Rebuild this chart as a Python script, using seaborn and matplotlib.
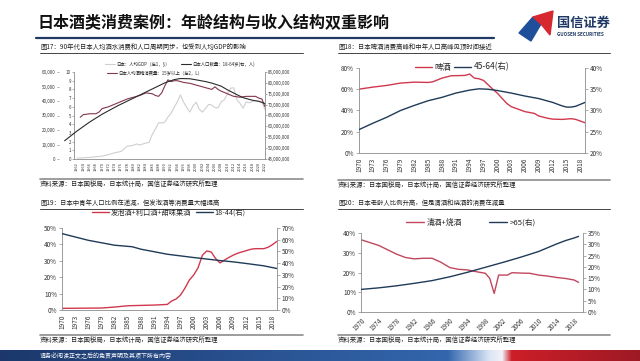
import matplotlib
matplotlib.use('Agg')
import matplotlib.pyplot as plt
from matplotlib.lines import Line2D
from matplotlib.patches import Polygon
import numpy as np
import seaborn as sns

# ---------------- data ----------------
# fig17: GDP per capita ($), working-age population, alcohol per capita (L)
gdp_years = [1962, 1964, 1966, 1968, 1970, 1972, 1974, 1976, 1978, 1979, 1980, 1981, 1982,
             1983, 1984, 1985, 1986, 1987, 1988, 1989, 1990, 1991, 1992, 1993, 1994, 1995,
             1996, 1997, 1998, 1999, 2000, 2001, 2002, 2003, 2004, 2005, 2006, 2007, 2008,
             2009, 2010, 2011, 2012, 2013, 2014, 2015, 2016, 2017, 2018, 2019, 2020, 2021, 2022]
gdp_usd = [600, 850, 1100, 1500, 2000, 3000, 4300, 5200, 8800, 9100, 9500, 10400, 9600,
           10400, 11000, 11600, 17000, 20700, 25000, 24800, 25400, 28900, 31500, 35800, 39300, 44200,
           39200, 35600, 32400, 36600, 39200, 34400, 32300, 34800, 37700, 37200, 35400, 35300, 39300,
           40900, 45000, 48800, 49100, 40900, 38500, 35000, 39400, 38800, 39700, 40400, 40000, 39800, 33800]
pop_years = [1958, 1962, 1966, 1970, 1975, 1980, 1985, 1990, 1993, 1995, 1998, 2000, 2003,
             2005, 2008, 2010, 2013, 2015, 2018, 2020, 2022]
pop_1864 = [53.4, 57.9, 62.0, 65.6, 69.5, 73.0, 76.5, 80.0, 81.5, 82.0, 81.9, 81.4, 80.6,
            79.9, 78.5, 76.8, 74.6, 73.2, 72.0, 71.5, 70.5]  # millions
alc_years = [1963, 1964, 1966, 1968, 1969, 1970, 1972, 1974, 1976, 1978, 1980, 1982, 1984,
             1986, 1987, 1988, 1989, 1990, 1991, 1992, 1993, 1994, 1996, 1998, 2000, 2002,
             2004, 2005, 2006, 2007, 2008, 2010, 2012, 2014, 2016, 2018, 2019, 2020, 2021, 2022]
alc_litres = [4.8, 5.1, 5.2, 5.2, 5.4, 5.8, 6.0, 6.3, 6.6, 6.9, 7.1, 7.3, 7.6,
              7.5, 7.3, 7.2, 7.6, 8.4, 9.1, 8.9, 9.0, 9.0, 8.8, 8.7, 8.5, 8.3,
              8.1, 8.0, 8.3, 8.0, 7.8, 7.5, 7.2, 7.1, 7.2, 7.2, 7.2, 7.0, 6.9, 6.0]

# fig18: beer share (left) and 45-64 share (right)
beer_years = [1970, 1973, 1976, 1979, 1982, 1985, 1986, 1988, 1990, 1993, 1994, 1995, 1996,
              1997, 1998, 1999, 2000, 2001, 2002, 2003, 2005, 2006, 2008, 2009, 2011, 2012,
              2014, 2016, 2017, 2019]
beer_share = [60.1, 62.0, 63.6, 65.8, 66.7, 66.4, 67.0, 70.5, 72.7, 73.0, 74.3, 70.5, 69.9,
              68.3, 64.2, 60.1, 56.3, 51.5, 46.8, 43.6, 40.5, 38.9, 37.3, 34.8, 32.6, 31.9,
              31.6, 32.3, 31.6, 28.5]
age4564_years = [1970, 1973, 1976, 1979, 1982, 1985, 1988, 1991, 1994, 1996, 1998, 2000, 2003,
                 2006, 2009, 2012, 2014, 2015, 2016, 2017, 2019]
age4564_share = [25.5, 27.0, 28.4, 30.0, 31.2, 32.3, 33.1, 34.1, 34.8, 35.1, 35.0, 34.7, 34.1,
                 33.4, 32.8, 31.9, 31.1, 30.8, 30.8, 31.0, 31.9]

# fig19: happoshu + liqueur + sweet fruit wine (left), 18-44 share (right)
happo_years = [1970, 1979, 1982, 1985, 1988, 1991, 1994, 1995, 1996, 1997, 1998, 1999, 2000,
               2001, 2002, 2003, 2004, 2005, 2006, 2007, 2008, 2009, 2010, 2011, 2012, 2013,
               2014, 2015, 2016, 2017, 2018, 2019]
happo_share = [1.0, 1.2, 1.8, 2.6, 2.8, 3.0, 3.4, 5.5, 6.7, 9.1, 13.2, 18.2, 21.3,
               25.7, 33.4, 36.0, 35.4, 31.4, 28.7, 30.4, 32.0, 33.4, 34.6, 35.4, 36.2, 37.0,
               37.4, 37.4, 37.4, 38.3, 39.9, 41.9]
age1844_years = [1970, 1976, 1982, 1986, 1988, 1994, 2000, 2006, 2009, 2012, 2016, 2019]
age1844_share = [65.2, 59.5, 55.3, 54.0, 51.9, 47.6, 44.8, 42.2, 41.1, 39.7, 37.7, 35.4]

# fig20: sake + shochu (left), over-65 share (right)
sake_years = [1970, 1974, 1978, 1980, 1982, 1984, 1986, 1988, 1990, 1992, 1994, 1996, 1998,
              1999, 2000, 2001, 2002, 2003, 2004, 2006, 2008, 2010, 2012, 2014, 2016, 2018, 2019]
sake_share = [36.6, 33.7, 29.3, 27.6, 26.9, 27.2, 27.2, 25.2, 22.5, 21.6, 21.3, 20.4, 19.6,
              17.0, 9.4, 18.7, 18.7, 18.7, 19.9, 19.7, 19.6, 18.7, 18.2, 17.5, 17.0, 16.2, 15.0]
age65_years = [1970, 1974, 1978, 1982, 1986, 1990, 1994, 1998, 2002, 2006, 2010, 2014, 2016,
               2018, 2019]
age65_share = [10.0, 10.7, 11.6, 12.7, 13.9, 15.6, 17.6, 19.8, 22.0, 24.3, 26.8, 30.1, 31.6,
               32.8, 33.5]

# ---------------- style ----------------
sns.set_theme(style='white')
plt.rcParams['font.family'] = ['Noto Sans CJK SC', 'DejaVu Sans']
plt.rcParams['axes.unicode_minus'] = False

W, H = 640, 361
NAVY = '#1f3b57'
RED = '#d0384e'
MAROON = '#83364a'
TXT = '#333333'
GRID = '#8c8c8c'


def box(x0, y0, x1, y1):
    return [x0 / W, 1 - y1 / H, (x1 - x0) / W, (y1 - y0) / H]


def fpos(x, y):
    return (x / W, 1 - y / H)


fig = plt.figure(figsize=(W / 100, H / 100), dpi=100)

# overlay in pixel coordinates for header, captions, rules, footer
bg = fig.add_axes([0, 0, 1, 1])
bg.set_xlim(0, W)
bg.set_ylim(H, 0)
bg.axis('off')

bg.text(38, 23, '日本酒类消费案例：年龄结构与收入结构双重影响', fontsize=11.5,
        fontweight='bold', color='#111111', va='center')
bg.plot([36, 494], [38, 38], color='#1f3864', lw=1.6)
bg.add_patch(Polygon([(519, 33), (533, 17), (541, 24), (531, 41)], closed=True, color='#1f4e9a'))
bg.add_patch(Polygon([(533, 17), (553, 11), (550, 35), (541, 24)], closed=True, color='#d7272f'))
bg.text(557, 23, '国信证券', fontsize=9.5, fontweight='bold', color='#1f3864', va='center')
bg.text(557, 34, 'GUOSEN SECURITIES', fontsize=3.3, fontweight='bold', color='#1f3864', va='center')

captions = [
    (40, 47, 303, '图17：90年代日本人均酒水消费和人口周期同步，也受到人均GDP的影响'),
    (338, 47, 610, '图18：日本啤酒消费高峰和中年人口高峰见顶时间接近'),
    (40, 203, 303, '图19：日本中青年人口比例在递减，但发泡酒等消费量大幅提高'),
    (338, 203, 610, '图20：日本老龄人比例升高，但是清酒和烧酒的消费在减量'),
]
for x0, y, x1, label in captions:
    bg.text(x0, y, label, fontsize=4.6, color='#222222', va='center')
    bg.plot([x0, x1], [y + 6, y + 6], color='#444444', lw=0.7)

source = '资料来源：日本国税局，日本统计局，国信证券经济研究所整理'
for x0, y, x1 in [(40, 179, 303), (338, 180, 610), (40, 335, 303), (338, 335, 610)]:
    bg.plot([x0, x1], [y, y], color=GRID, lw=1.2)
    bg.text(x0, y + 5, source, fontsize=4.6, color='#222222', va='center')

# footer band
xs = np.linspace(0, 1, 640)
stops = [0, 0.70, 0.765, 0.785, 0.80, 1.0]
cols = np.array([[0.11, 0.22, 0.42], [0.20, 0.40, 0.68], [0.85, 0.90, 0.96],
                 [0.95, 0.95, 0.97], [0.80, 0.12, 0.16], [0.62, 0.10, 0.14]])
grad = np.stack([np.interp(xs, stops, cols[:, c]) for c in range(3)], axis=-1)[None, :, :]
bg.imshow(grad, extent=(0, W, H, 350), aspect='auto')
bg.set_xlim(0, W)
bg.set_ylim(H, 0)
bg.text(40, 356, '请务必阅读正文之后的免责声明及其项下所有内容', fontsize=4.3, color='white', va='center')


def style_axes(ax, left=True, right=False, size=4.6):
    for s in ['top', 'left', 'right', 'bottom']:
        ax.spines[s].set_visible(False)
    ax.spines['bottom'].set_visible(True)
    if left:
        ax.spines['left'].set_visible(True)
    if right:
        ax.spines['right'].set_visible(True)
    for s in ax.spines.values():
        s.set_color(GRID)
        s.set_linewidth(0.6)
    ax.tick_params(axis='both', which='major', length=2, width=0.5, color=GRID,
                   labelsize=size, labelcolor=TXT, pad=1.5)
    ax.set_xlabel('')
    ax.set_ylabel('')


# ---------------- fig17 ----------------
ax_g = fig.add_axes(box(74, 72, 265, 159))
sns.lineplot(x=gdp_years, y=gdp_usd, ax=ax_g, color='#cfcfcf', lw=0.8, legend=False)
ax_g.set_xlim(1961, 2022)
ax_g.set_ylim(0, 60000)
style_axes(ax_g, left=False, size=3.2)
ax_g.spines['left'].set_position(('outward', 11))
ax_g.set_yticks(range(0, 60001, 10000))
ax_g.set_yticklabels([f'{v:,}' for v in range(0, 60001, 10000)])
ax_g.tick_params(axis='y', left=True, length=1.2, pad=1)
ax_g.set_xticks(range(1962, 2023, 2))
ax_g.set_xticklabels([str(y) for y in range(1962, 2023, 2)], rotation=90, fontsize=2.9)
ax_g.tick_params(axis='x', length=1.2, pad=1)

ax_a = ax_g.twinx()
sns.lineplot(x=alc_years, y=alc_litres, ax=ax_a, color=MAROON, lw=0.8, legend=False)
ax_a.set_ylim(0, 10)
ax_a.yaxis.tick_left()
style_axes(ax_a, left=True, size=3.2)
ax_a.spines['bottom'].set_visible(False)
ax_a.set_yticks(range(0, 11))
ax_a.tick_params(axis='y', length=1.2, pad=1)

ax_p = ax_g.twinx()
sns.lineplot(x=pop_years, y=pop_1864, ax=ax_p, color='#2b2b2b', lw=0.8, legend=False)
for ln in ax_p.lines:
    ln.set_clip_on(False)
ax_p.set_ylim(45, 85)
style_axes(ax_p, left=False, right=True, size=3.2)
ax_p.spines['bottom'].set_visible(False)
ax_p.set_yticks(range(45, 86, 5))
ax_p.set_yticklabels([f'{v * 1000000:,}' for v in range(45, 86, 5)])
ax_p.tick_params(axis='y', length=1.2, pad=1)
ax_g.set_xlim(1961, 2022)

fig.legend([Line2D([], [], color='#cfcfcf', lw=0.8), Line2D([], [], color='#2b2b2b', lw=0.8)],
           ['日本：人均GDP（左1，$）', '日本人口数量：18-64岁(右，人)'],
           loc='center left', bbox_to_anchor=fpos(105, 64), ncol=2, frameon=False,
           fontsize=3.2, handlelength=2.2, handletextpad=0.4, columnspacing=2.5,
           borderpad=0, borderaxespad=0)
fig.legend([Line2D([], [], color=MAROON, lw=0.8)],
           ['日本人均酒精消费量：15岁以上（左2，L）'],
           loc='center left', bbox_to_anchor=fpos(107, 73), frameon=False,
           fontsize=3.2, handlelength=2.2, handletextpad=0.4,
           borderpad=0, borderaxespad=0)

# ---------------- fig18 ----------------
years3 = list(range(1970, 2019, 3))
ax2 = fig.add_axes(box(359, 68, 585, 153))
sns.lineplot(x=beer_years, y=beer_share, ax=ax2, color=RED, lw=1.0, legend=False)
ax2.set_xlim(1970, 2019)
ax2.set_ylim(0, 80)
style_axes(ax2)
ax2.set_yticks(range(0, 81, 20))
ax2.set_yticklabels([f'{v}%' for v in range(0, 81, 20)])
ax2.set_xticks(years3)
ax2.set_xticklabels([str(y) for y in years3], rotation=90)
ax2r = ax2.twinx()
sns.lineplot(x=age4564_years, y=age4564_share, ax=ax2r, color=NAVY, lw=1.0, legend=False)
ax2r.set_ylim(20, 40)
style_axes(ax2r, left=False, right=True)
ax2r.spines['bottom'].set_visible(False)
ax2r.set_yticks(range(20, 41, 5))
ax2r.set_yticklabels([f'{v}%' for v in range(20, 41, 5)])
ax2.set_xlim(1970, 2019)
fig.legend([Line2D([], [], color=RED, lw=1.0), Line2D([], [], color=NAVY, lw=1.0)],
           ['啤酒', '45-64(右)'], loc='center', bbox_to_anchor=fpos(462, 67), ncol=2,
           frameon=False, fontsize=6, handlelength=2.0, handletextpad=0.3, columnspacing=0.4,
           borderpad=0, borderaxespad=0)

# ---------------- fig19 ----------------
ax3 = fig.add_axes(box(62, 228, 277, 310))
sns.lineplot(x=happo_years, y=happo_share, ax=ax3, color=RED, lw=1.0, legend=False)
ax3.set_xlim(1970, 2019)
ax3.set_ylim(0, 50)
style_axes(ax3)
ax3.set_yticks(range(0, 51, 10))
ax3.set_yticklabels([f'{v}%' for v in range(0, 51, 10)])
ax3.set_xticks(years3)
ax3.set_xticklabels([str(y) for y in years3], rotation=90)
ax3r = ax3.twinx()
sns.lineplot(x=age1844_years, y=age1844_share, ax=ax3r, color=NAVY, lw=1.0, legend=False)
ax3r.set_ylim(0, 70)
style_axes(ax3r, left=False, right=True)
ax3r.spines['bottom'].set_visible(False)
ax3r.set_yticks(range(0, 71, 10))
ax3r.set_yticklabels([f'{v}%' for v in range(0, 71, 10)])
ax3.set_xlim(1970, 2019)
fig.legend([Line2D([], [], color=RED, lw=1.0), Line2D([], [], color=NAVY, lw=1.0)],
           ['发泡酒+利口酒+甜味果酒', '18-44(右)'], loc='center', bbox_to_anchor=fpos(169, 213),
           ncol=2, frameon=False, fontsize=5.2, handlelength=2.3, handletextpad=0.3,
           columnspacing=0.6, borderpad=0, borderaxespad=0)

# ---------------- fig20 ----------------
years4 = list(range(1970, 2019, 4))
ax4 = fig.add_axes(box(361, 233, 583, 312))
sns.lineplot(x=sake_years, y=sake_share, ax=ax4, color='#c0475e', lw=1.0, legend=False)
ax4.set_xlim(1970, 2020)
ax4.set_ylim(0, 40)
style_axes(ax4)
ax4.set_yticks(range(0, 41, 10))
ax4.set_yticklabels([f'{v}%' for v in range(0, 41, 10)])
ax4.set_xticks(years4)
ax4.set_xticklabels([str(y) for y in years4], rotation=45, ha='right', rotation_mode='anchor')
ax4r = ax4.twinx()
sns.lineplot(x=age65_years, y=age65_share, ax=ax4r, color=NAVY, lw=1.0, legend=False)
ax4r.set_ylim(0, 35)
style_axes(ax4r, left=False, right=True)
ax4r.spines['bottom'].set_visible(False)
ax4r.set_yticks(range(0, 36, 5))
ax4r.set_yticklabels([f'{v}%' for v in range(0, 36, 5)])
ax4.set_xlim(1970, 2020)
fig.legend([Line2D([], [], color='#c0475e', lw=1.0), Line2D([], [], color=NAVY, lw=1.0)],
           ['清酒+烧酒', '>65(右)'], loc='center', bbox_to_anchor=fpos(471, 223),
           ncol=2, frameon=False, fontsize=5.6, handlelength=2.3, handletextpad=0.3,
           columnspacing=3.5, borderpad=0, borderaxespad=0)

fig.savefig('out.png', dpi=100)
